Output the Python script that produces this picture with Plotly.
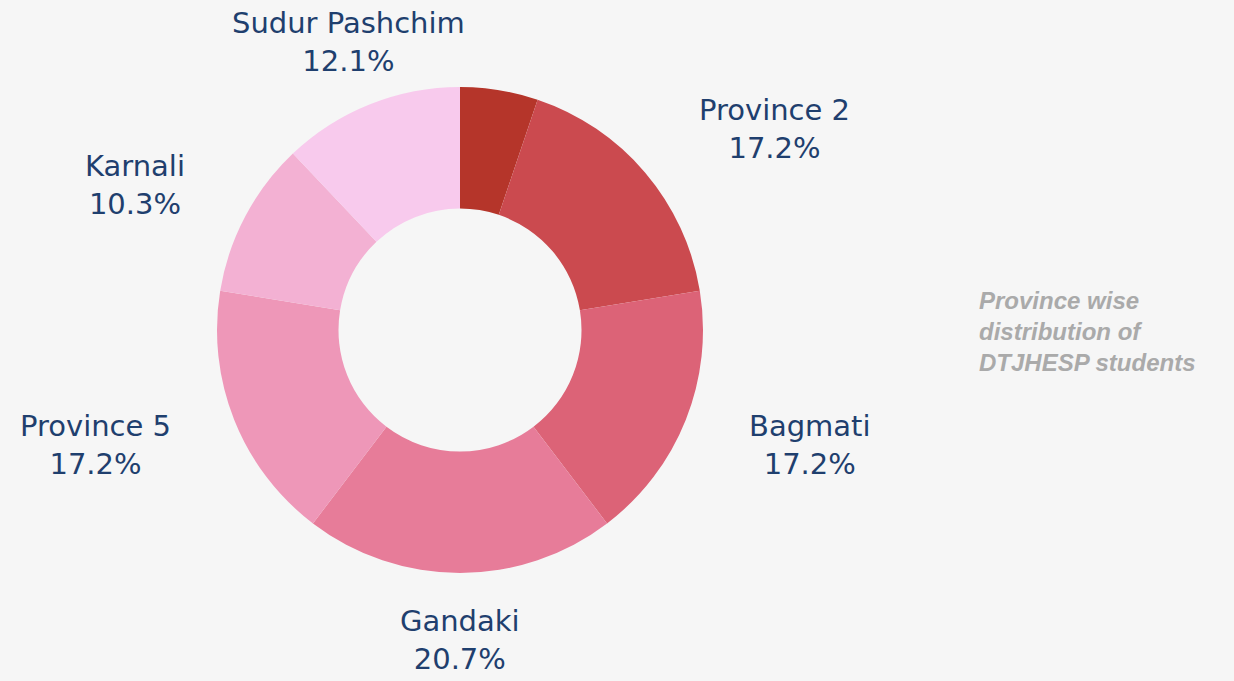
import math
import plotly.graph_objects as go

labels = ["Province 1", "Province 2", "Bagmati", "Gandaki", "Province 5", "Karnali", "Sudur Pashchim"]
values = [3, 10, 10, 12, 10, 6, 7]
show_label = [False, True, True, True, True, True, True]
colors = ["#b5352a", "#cb4a4f", "#dc6377", "#e77c99", "#ee97b8", "#f3b1d3", "#f8caed"]

W, H = 1234, 681
cx, cy, R = 460, 330, 243
label_rx, label_ry = 300, 310

fig = go.Figure(go.Pie(
    labels=labels, values=values, hole=0.5, sort=False, direction="clockwise",
    rotation=0, marker=dict(colors=colors, line=dict(width=0)),
    textinfo="none", hoverinfo="label+percent", showlegend=False,
    domain=dict(x=[(cx - R) / W, (cx + R) / W], y=[(H - cy - R) / H, (H - cy + R) / H]),
))

total = sum(values)
cum = 0
for lab, v, show in zip(labels, values, show_label):
    mid = (cum + v / 2) / total * 2 * math.pi
    cum += v
    if not show:
        continue
    s, c = math.sin(mid), math.cos(mid)
    px = cx + label_rx * s
    py = cy - label_ry * c
    if s > 0.5:
        xa, xs = "left", 8
    elif s < -0.5:
        xa, xs = "right", -8
    else:
        xa, xs = "center", 0
    pct = v / total * 100
    fig.add_annotation(
        x=px / W, y=1 - py / H, xref="paper", yref="paper",
        text=f"{lab}<br>{pct:.1f}%", showarrow=False, xanchor=xa, yanchor="middle",
        xshift=xs, align="center",
        font=dict(family="DejaVu Sans", size=29, color="#1f3f6e"),
    )

fig.add_annotation(
    x=977 / W, y=1 - 331 / H, xref="paper", yref="paper",
    text="<b><i>Province wise<br>distribution of<br>DTJHESP students</i></b>",
    showarrow=False, xanchor="left", yanchor="middle", align="left",
    font=dict(family="Liberation Sans", size=24, color="#aaaaaa"),
)

fig.update_layout(
    width=W, height=H, margin=dict(l=0, r=0, t=0, b=0),
    paper_bgcolor="#f6f6f6", plot_bgcolor="#f6f6f6",
)

fig.write_html(
    "out.html",
    config={"displayModeBar": False},
    post_script="document.body.style.margin='0';document.body.style.background='#f6f6f6';",
)
